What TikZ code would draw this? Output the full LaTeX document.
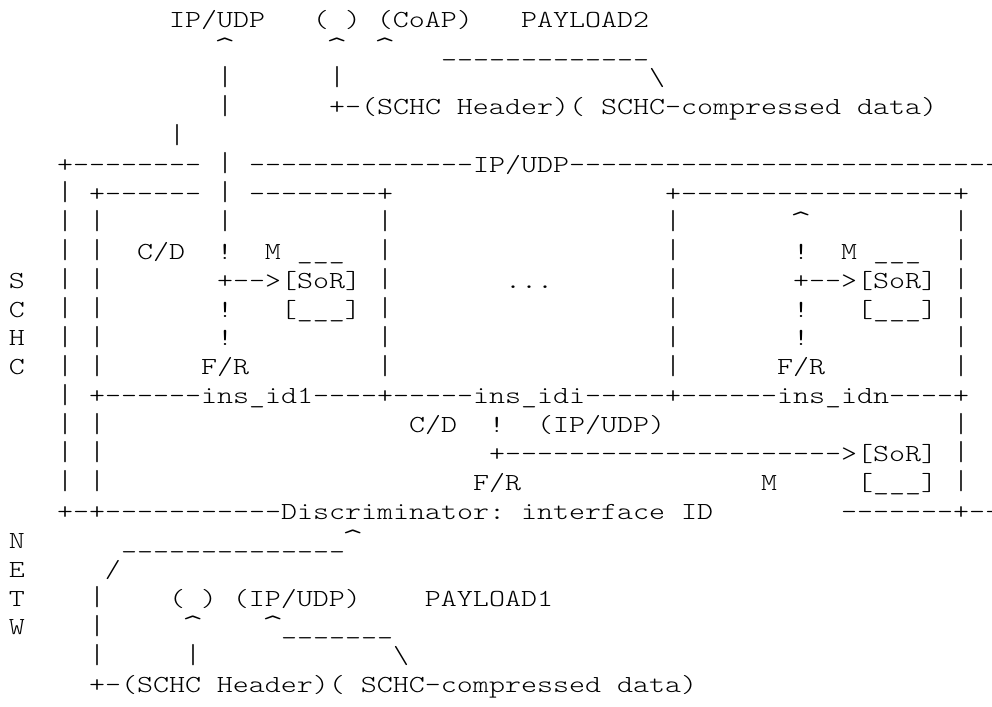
\documentclass[tikz,border=0pt]{standalone}
\usepackage{graphicx}
\font\asciitt="[lmmonolt10-regular]:extend=1.244" at 24.5pt
\newlength\Kw
\settowidth{\Kw}{\asciitt M}
\ExplSyntaxOn
\cs_new:Npn \Krep #1#2 { \prg_replicate:nn {#1} {#2} }
\ExplSyntaxOff
\newcommand\Sp[1]{\hspace*{#1\Kw}}
\newcommand\Kc{\makebox[\Kw]{\raisebox{-2pt}{\scalebox{1.35}{\char94}}}}
\newcommand\Ku{\char95\relax}
\newcommand\Kb{\char92\relax}
\newcommand\Kv{\raisebox{0.6pt}{\scalebox{1}[1.12]{|}}}
\tikzset{asciiline/.style={anchor=base west, inner sep=0pt, outer sep=0pt, font=\asciitt, text=black}}
\newcommand\Aline[2]{\node[asciiline] (l#1) at (9,{-28-28.9*#1}) {#2};}
\begin{document}
\begin{tikzpicture}[x=1pt,y=1pt]
\fill[white] (0,0) rectangle (992,-706);
\useasboundingbox (0,0) rectangle (992,-706);
\Aline{0}{\Sp{10}IP/UDP\Sp{3}(\Sp{1})\Sp{1}(CoAP)\Sp{3}PAYLOAD2}
\Aline{1}{\Sp{13}\Kc\Sp{6}\Kc\Sp{2}\Kc\Sp{3}\Krep{13}{\Ku}}
\Aline{2}{\Sp{13}\Kv\Sp{6}\Kv\Sp{19}\Kb}
\Aline{3}{\Sp{13}\Kv\Sp{6}+-(SCHC\Sp{1}Header)(\Sp{1}SCHC-compressed\Sp{1}data)}
\Aline{4}{\Sp{10}\Kv}
\Aline{5}{\Sp{3}+\Krep{8}{-}\Sp{1}\Kv\Sp{1}\Krep{14}{-}IP/UDP\Krep{27}{-}}
\Aline{6}{\Sp{3}\Kv\Sp{1}+\Krep{6}{-}\Sp{1}\Kv\Sp{1}\Krep{8}{-}+\Sp{17}+\Krep{17}{-}+}
\Aline{7}{\Sp{3}\Kv\Sp{1}\Kv\Sp{7}\Kv\Sp{9}\Kv\Sp{17}\Kv\Sp{7}\Kc\Sp{9}\Kv}
\Aline{8}{\Sp{3}\Kv\Sp{1}\Kv\Sp{2}C/D\Sp{2}!\Sp{2}M\Sp{1}\Ku\Ku\Ku\Sp{2}\Kv\Sp{17}\Kv\Sp{7}!\Sp{2}M\Sp{1}\Ku\Ku\Ku\Sp{2}\Kv}
\Aline{9}{S\Sp{2}\Kv\Sp{1}\Kv\Sp{7}+-->[SoR]\Sp{1}\Kv\Sp{7}...\Sp{7}\Kv\Sp{7}+-->[SoR]\Sp{1}\Kv}
\Aline{10}{C\Sp{2}\Kv\Sp{1}\Kv\Sp{7}!\Sp{3}[\Ku\Ku\Ku]\Sp{1}\Kv\Sp{17}\Kv\Sp{7}!\Sp{3}[\Ku\Ku\Ku]\Sp{1}\Kv}
\Aline{11}{H\Sp{2}\Kv\Sp{1}\Kv\Sp{7}!\Sp{9}\Kv\Sp{17}\Kv\Sp{7}!\Sp{9}\Kv}
\Aline{12}{C\Sp{2}\Kv\Sp{1}\Kv\Sp{6}F/R\Sp{8}\Kv\Sp{17}\Kv\Sp{6}F/R\Sp{8}\Kv}
\Aline{13}{\Sp{3}\Kv\Sp{1}+\Krep{6}{-}ins\Ku id1\Krep{4}{-}+\Krep{5}{-}ins\Ku idi\Krep{5}{-}+\Krep{6}{-}ins\Ku idn\Krep{4}{-}+}
\Aline{14}{\Sp{3}\Kv\Sp{1}\Kv\Sp{19}C/D\Sp{2}!\Sp{2}(IP/UDP)\Sp{18}\Kv}
\Aline{15}{\Sp{3}\Kv\Sp{1}\Kv\Sp{24}+\Krep{21}{-}>[SoR]\Sp{1}\Kv}
\Aline{16}{\Sp{3}\Kv\Sp{1}\Kv\Sp{23}F/R\Sp{15}M\Sp{5}[\Ku\Ku\Ku]\Sp{1}\Kv}
\Aline{17}{\Sp{3}+-+\Krep{11}{-}Discriminator:\Sp{1}interface\Sp{1}ID\Sp{8}\Krep{7}{-}+--}
\Aline{18}{N\Sp{6}\Krep{14}{\Ku}\Kc}
\Aline{19}{E\Sp{5}/}
\Aline{20}{T\Sp{4}\Kv\Sp{4}(\Sp{1})\Sp{1}(IP/UDP)\Sp{4}PAYLOAD1}
\Aline{21}{W\Sp{4}\Kv\Sp{5}\Kc\Sp{4}\Kc\Krep{7}{\Ku}}
\Aline{22}{\Sp{5}\Kv\Sp{5}\Kv\Sp{12}\Kb}
\Aline{23}{\Sp{5}+-(SCHC\Sp{1}Header)(\Sp{1}SCHC-compressed\Sp{1}data)}
\end{tikzpicture}
\end{document}
